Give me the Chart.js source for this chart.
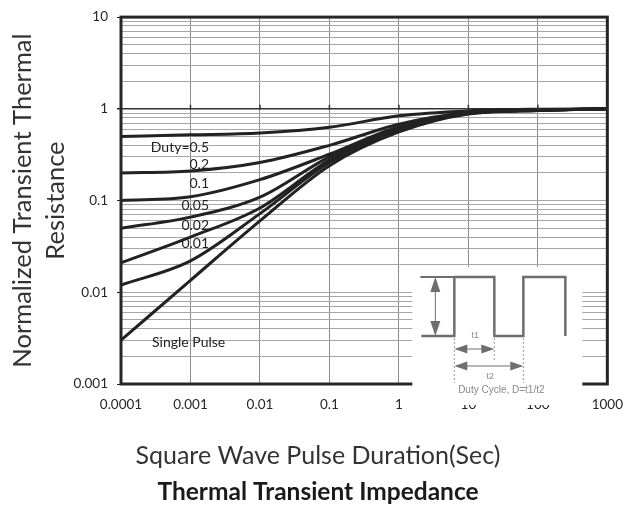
<!DOCTYPE html>
<html>
<head>
<meta charset="utf-8">
<script src="https://cdn.jsdelivr.net/npm/chart.js@4.4.1/dist/chart.umd.min.js"></script>
<style>
  body { margin: 0; background: #fff; }
  canvas { display: block; }
</style>
</head>
<body>
<canvas id="zthChart" width="636" height="515"></canvas>
<script>
// pulse duration (sec), one point per decade
const pulseTimes = [0.0001, 0.001, 0.01, 0.1, 1, 10, 100, 1000];

// normalized Zth
const duty05 = [0.5, 0.52, 0.545, 0.63, 0.84, 0.95, 0.99, 1.0];
const duty02 = [0.2, 0.21, 0.26, 0.40, 0.68, 0.91, 0.97, 1.0];
const duty01 = [0.1, 0.11, 0.169, 0.32, 0.64, 0.90, 0.97, 1.0];
const duty005 = [0.05, 0.066, 0.109, 0.30, 0.62, 0.90, 0.97, 1.0];
const duty002 = [0.021, 0.04, 0.083, 0.276, 0.60, 0.89, 0.96, 1.0];
const duty001 = [0.012, 0.022, 0.072, 0.26, 0.58, 0.89, 0.96, 1.0];
const singlePulse = [0.003, 0.0135, 0.06, 0.24, 0.56, 0.88, 0.96, 1.0];

const curveNames = ["Duty=0.5", "0.2", "0.1", "0.05", "0.02", "0.01", "Single Pulse"];
// where the curve names sit, in data units
const nameX = [0.00185, 0.00185, 0.00185, 0.00185, 0.00185, 0.00185, 0.00028];
const nameY = [0.377, 0.246, 0.153, 0.088, 0.053, 0.034, 0.00286];

const xTickValues = [0.0001, 0.001, 0.01, 0.1, 1, 10, 100, 1000];
const yDecades = [0.001, 0.01, 0.1, 1];
const yMinorSteps = [1, 2, 3, 4, 5, 6, 7, 8, 9];

const xTitle = "Square Wave Pulse Duration(Sec)";
const chartTitle = "Thermal Transient Impedance";

const allSeries = [duty05, duty02, duty01, duty005, duty002, duty001, singlePulse];

const yTickValues = [];
yDecades.forEach(d => yMinorSteps.forEach(m => yTickValues.push(d * m)));
yTickValues.push(10);

function isDecade(v) {
    const l = Math.log10(v);
    return Math.abs(l - Math.round(l)) < 1e-9;
}
function isOne(c) {
    return c.tick && Math.abs(c.tick.value - 1) < 1e-9;
}

const FONT = 'Lato, "Open Sans", sans-serif';
Chart.defaults.font.family = FONT;

function arrowHead(ctx, x, y, dx, dy, len, half) {
    // tip at (x, y), pointing along (dx, dy)
    ctx.beginPath();
    ctx.moveTo(x, y);
    ctx.lineTo(x - dx * len - dy * half, y - dy * len + dx * half);
    ctx.lineTo(x - dx * len + dy * half, y - dy * len - dx * half);
    ctx.closePath();
    ctx.fill();
}

// the little square wave picture in the lower right corner
function drawInset(ctx, R, B) {
    ctx.fillStyle = "#fff";
    ctx.fillRect(R - 195, B - 117, 170, 138);

    const hi = B - 107, lo = B - 48;
    ctx.strokeStyle = "#6e6e6e";
    ctx.lineWidth = 2.5;
    ctx.lineJoin = "miter";
    ctx.beginPath();
    ctx.moveTo(R - 186, lo);
    ctx.lineTo(R - 153, lo);
    ctx.lineTo(R - 153, hi);
    ctx.lineTo(R - 113, hi);
    ctx.lineTo(R - 113, lo);
    ctx.lineTo(R - 84, lo);
    ctx.lineTo(R - 84, hi);
    ctx.lineTo(R - 42, hi);
    ctx.lineTo(R - 42, lo);
    ctx.stroke();
    ctx.lineWidth = 2;
    ctx.beginPath();
    ctx.moveTo(R - 187, hi);
    ctx.lineTo(R - 153, hi);
    ctx.stroke();

    // arrows
    ctx.fillStyle = "#6e6e6e";
    ctx.lineWidth = 1;
    ctx.beginPath();
    ctx.moveTo(R - 172, hi + 6); ctx.lineTo(R - 172, lo - 6);
    ctx.moveTo(R - 150, B - 35); ctx.lineTo(R - 116, B - 35);
    ctx.moveTo(R - 150, B - 18); ctx.lineTo(R - 87, B - 18);
    ctx.stroke();
    arrowHead(ctx, R - 172, hi, 0, -1, 15, 5);
    arrowHead(ctx, R - 172, lo, 0, 1, 15, 5);
    arrowHead(ctx, R - 153, B - 35, -1, 0, 13, 4.5);
    arrowHead(ctx, R - 113, B - 35, 1, 0, 13, 4.5);
    arrowHead(ctx, R - 153, B - 18, -1, 0, 13, 4.5);
    arrowHead(ctx, R - 84, B - 18, 1, 0, 13, 4.5);

    // dashed guides
    ctx.strokeStyle = "#999";
    ctx.setLineDash([2, 2]);
    ctx.beginPath();
    ctx.moveTo(R - 153, lo + 2); ctx.lineTo(R - 153, B - 1);
    ctx.moveTo(R - 113, lo + 2); ctx.lineTo(R - 113, B - 22);
    ctx.moveTo(R - 84, lo + 2); ctx.lineTo(R - 84, B - 1);
    ctx.stroke();
    ctx.setLineDash([]);

    ctx.fillStyle = "#8a8a8a";
    ctx.textAlign = "center";
    ctx.textBaseline = "middle";
    ctx.font = '9px "Liberation Sans", Arial, sans-serif';
    ctx.fillText("t1", R - 132, B - 48);
    ctx.fillText("t2", R - 117, B - 7);
    ctx.font = '10px "Liberation Sans", Arial, sans-serif';
    ctx.fillText("Duty Cycle, D=t1/t2", R - 106, B + 6);
}

const decorPlugin = {
    id: "decor",
    afterDraw(chart) {
        const { ctx, chartArea: ca, scales } = chart;
        const xs = scales.x, ys = scales.y;
        ctx.save();

        // small ticks where the horizontal axis crosses at 1
        const y1 = ys.getPixelForValue(1);
        ctx.strokeStyle = "#333";
        ctx.lineWidth = 1.5;
        ctx.beginPath();
        xTickValues.slice(1, -1).forEach(v => {
            const px = xs.getPixelForValue(v);
            ctx.moveTo(px, y1 - 4);
            ctx.lineTo(px, y1 + 1);
        });
        ctx.stroke();

        // plot frame
        ctx.strokeStyle = "#262626";
        ctx.lineWidth = 3;
        ctx.strokeRect(ca.left, ca.top, ca.right - ca.left, ca.bottom - ca.top);

        // curve names
        ctx.font = "14px " + FONT;
        ctx.fillStyle = "#222";
        ctx.textBaseline = "middle";
        curveNames.forEach((name, i) => {
            ctx.textAlign = i === curveNames.length - 1 ? "left" : "right";
            ctx.fillText(name, xs.getPixelForValue(nameX[i]), ys.getPixelForValue(nameY[i]));
        });

        // axis title and chart title, centred on the whole picture
        ctx.textAlign = "center";
        ctx.textBaseline = "alphabetic";
        ctx.fillStyle = "#333";
        ctx.font = "25px " + FONT;
        ctx.fillText(xTitle, chart.width / 2, ca.bottom + 80);
        ctx.fillStyle = "#1a1a1a";
        ctx.font = "bold 24.5px " + FONT;
        ctx.fillText(chartTitle, chart.width / 2, chart.height - 15);

        drawInset(ctx, ca.right, ca.bottom);
        ctx.restore();
    }
};

new Chart(document.getElementById("zthChart"), {
    type: "line",
    data: {
        datasets: allSeries.map((vals, i) => ({
            label: curveNames[i],
            data: pulseTimes.map((t, k) => ({ x: t, y: vals[k] })),
            borderColor: "#222",
            borderWidth: 3,
            pointRadius: 0,
            fill: false,
            cubicInterpolationMode: "monotone"
        }))
    },
    options: {
        responsive: false,
        animation: false,
        layout: { padding: { top: 15, right: 28, left: 0, bottom: 0 } },
        plugins: {
            legend: { display: false },
            tooltip: { enabled: false },
            title: { display: false }
        },
        scales: {
            x: {
                type: "logarithmic",
                min: 0.0001,
                max: 1000,
                afterBuildTicks: s => { s.ticks = xTickValues.map(v => ({ value: v })); },
                afterFit: s => { s.height = 131; },
                border: { display: false },
                grid: { color: "#8c8c8c", lineWidth: 1, drawTicks: false },
                ticks: {
                    autoSkip: false,
                    maxRotation: 0,
                    padding: 13,
                    color: "#262626",
                    font: { size: 13.5 },
                    callback: v => String(v)
                }
            },
            y: {
                type: "logarithmic",
                min: 0.001,
                max: 10,
                afterBuildTicks: s => { s.ticks = yTickValues.map(v => ({ value: v })); },
                afterFit: s => { s.width = 121; },
                border: { display: false },
                grid: {
                    color: c => isOne(c) ? "#333" : "#a6a6a6",
                    lineWidth: c => isOne(c) ? 1.5 : 1,
                    tickColor: c => (c.tick && isDecade(c.tick.value)) ? "#222" : "rgba(0,0,0,0)",
                    tickLength: 4
                },
                ticks: {
                    autoSkip: false,
                    padding: 9,
                    color: "#262626",
                    font: { size: 13.5 },
                    callback: v => isDecade(v) ? String(v) : ""
                },
                title: {
                    display: true,
                    text: ["Normalized Transient Thermal", "Resistance"],
                    color: "#333",
                    font: { family: FONT, size: 25.5, lineHeight: 1.294 },
                    padding: { top: 6.5, bottom: 0 }
                }
            }
        }
    },
    plugins: [decorPlugin]
});
</script>
</body>
</html>
